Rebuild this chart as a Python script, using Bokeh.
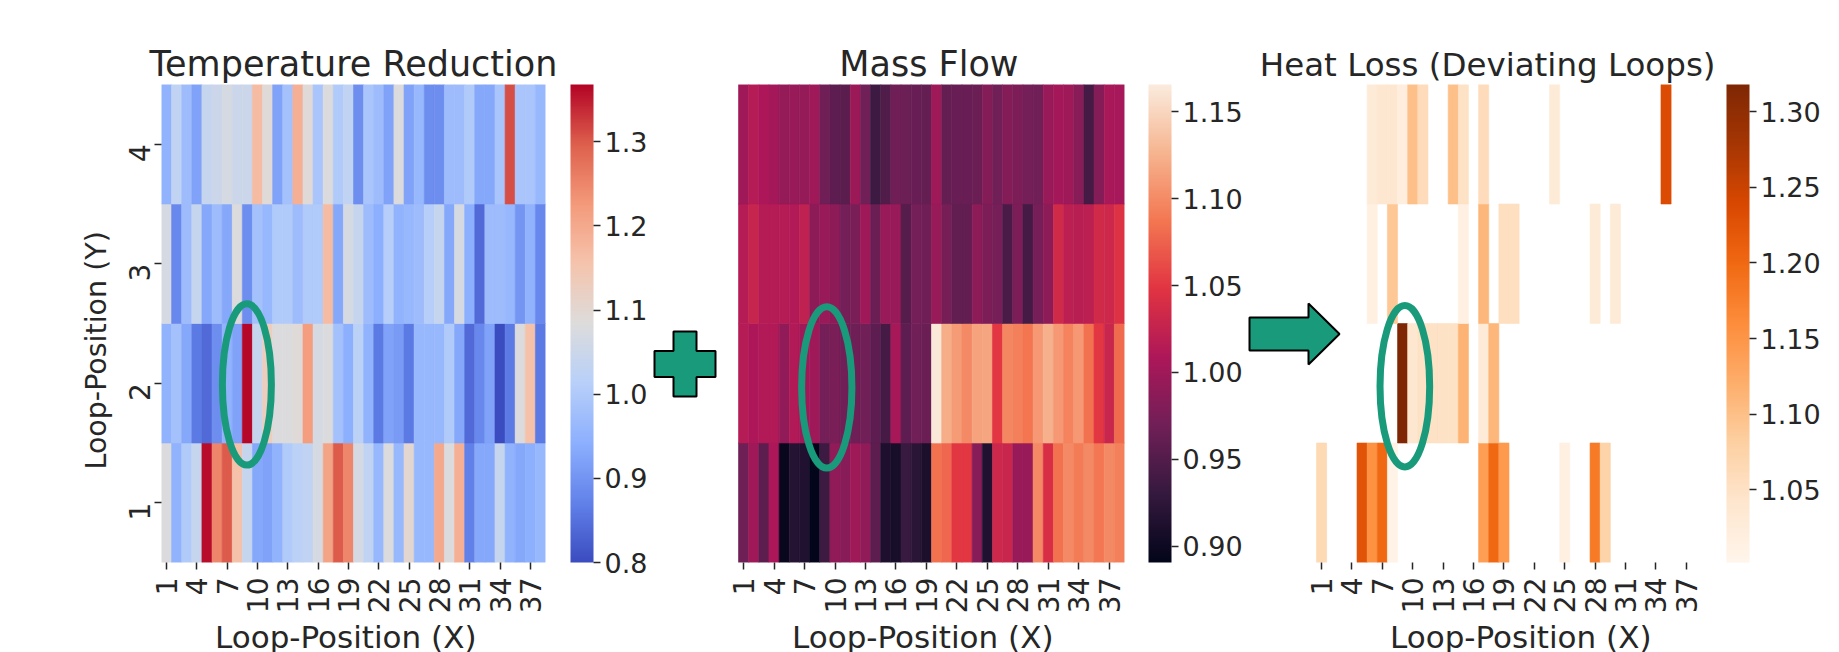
import math
import numpy as np
from bokeh.plotting import figure
from bokeh.layouts import row
from bokeh.models import (ColumnDataSource, LinearColorMapper, ColorBar, FixedTicker,
                          PrintfTickFormatter, Title, Range1d)
from bokeh.transform import transform
from bokeh.embed import file_html
from bokeh.resources import INLINE

# ---------------- data ----------------
loop_x = list(range(1, 39))
loop_y = [1, 2, 3, 4]
x_ticks = list(range(1, 38, 3))
y_ticks = [1, 2, 3, 4]

temp_y1 = [1.08, 0.95, 1.00, 1.04, 1.36, 1.25, 1.30, 1.16, 1.04, 0.93, 0.92, 0.95, 1.00, 1.02, 1.03, 1.07, 1.21, 1.30, 1.25,
           1.07, 1.03, 0.96, 1.08, 0.96, 1.10, 0.96, 0.96, 1.20, 1.08, 1.19, 0.87, 0.93, 0.93, 1.04, 0.95, 0.93, 0.94, 0.96]
temp_y2 = [0.95, 0.98, 0.93, 0.86, 0.84, 0.89, 0.95, 0.92, 1.365, 1.04, 1.13, 1.08, 1.08, 1.09, 1.22, 1.07, 1.08, 0.98, 0.94,
           1.02, 0.95, 0.86, 0.92, 0.91, 0.86, 0.96, 0.96, 0.96, 1.00, 0.93, 0.84, 0.88, 0.92, 0.80, 0.86, 1.08, 1.16, 0.86]
temp_y3 = [1.07, 0.88, 0.97, 1.04, 0.93, 0.97, 0.93, 1.08, 0.89, 0.98, 0.96, 1.00, 1.00, 0.97, 1.00, 1.00, 1.17, 0.93, 1.07,
           1.04, 0.97, 0.94, 1.01, 0.95, 0.96, 0.97, 1.01, 1.04, 0.93, 1.07, 0.94, 0.84, 0.97, 0.97, 0.96, 0.90, 0.95, 0.88]
temp_y4 = [0.95, 1.03, 0.97, 0.92, 1.04, 1.05, 1.07, 1.05, 1.05, 1.17, 1.09, 0.92, 0.98, 1.19, 1.09, 0.99, 1.08, 1.00, 1.03,
           0.89, 0.99, 0.97, 0.92, 1.08, 0.92, 0.96, 0.89, 0.89, 0.97, 0.97, 1.00, 0.93, 0.93, 0.99, 1.31, 0.99, 0.99, 0.96]

mass_y1 = [0.967, 1.000, 0.957, 1.008, 0.895, 0.918, 0.915, 0.891, 0.935, 0.990, 0.985, 1.000, 0.990, 0.957, 0.912, 0.908,
           0.932, 0.922, 0.910, 1.085, 1.078, 1.050, 1.050, 0.985, 0.915, 1.032, 1.030, 0.995, 0.995, 1.100, 1.040, 1.085,
           1.100, 1.090, 1.100, 1.088, 1.100, 1.093]
mass_y2 = [1.015, 1.008, 1.012, 1.012, 0.990, 1.012, 1.000, 1.000, 0.972, 0.975, 0.970, 0.967, 0.970, 0.958, 0.940, 1.005,
           0.958, 0.970, 0.965, 1.163, 1.122, 1.110, 1.100, 1.115, 1.117, 1.050, 1.097, 1.093, 1.087, 1.108, 1.124, 1.108,
           1.095, 1.108, 1.085, 1.050, 1.030, 1.080]
mass_y3 = [1.015, 1.028, 1.015, 1.015, 1.015, 1.012, 1.022, 0.988, 0.995, 0.988, 0.972, 0.975, 1.000, 0.965, 0.995, 0.995,
           0.952, 0.972, 0.968, 0.995, 0.974, 0.960, 0.960, 0.988, 0.977, 0.973, 0.945, 0.977, 0.940, 0.973, 0.988, 1.035,
           1.020, 1.018, 1.020, 1.035, 1.033, 1.045]
mass_y4 = [1.000, 1.015, 1.008, 1.003, 0.993, 0.995, 0.993, 1.000, 0.968, 0.958, 0.955, 0.998, 0.970, 0.935, 0.948, 0.968,
           0.966, 0.964, 0.962, 1.000, 0.962, 0.964, 0.964, 0.965, 0.982, 0.970, 0.982, 0.977, 0.972, 0.970, 0.995, 1.003,
           1.000, 0.985, 0.940, 0.982, 1.006, 1.004]

N = None
heat_y1 = [1.065, N, N, N, 1.225, 1.155, 1.200, 1.010, N, N, N, N, N, N, N, N, 1.140, 1.200, 1.145,
           N, N, N, N, N, 1.015, N, N, 1.180, 1.075, N, N, N, N, N, N, N, N, N]
heat_y2 = [N, N, N, N, N, N, N, N, 1.318, 1.040, 1.050, 1.050, 1.050, 1.050, 1.115, N, 1.030, 1.110, N,
           N, N, N, N, N, N, N, N, N, N, N, N, N, N, N, N, N, N, N]
heat_y3 = [N, N, N, N, N, 1.015, N, 1.090, N, N, N, N, N, N, 1.015, N, 1.110, N, 1.055,
           1.055, N, N, N, N, N, N, N, 1.030, N, 1.030, N, N, N, N, N, N, N, N]
heat_y4 = [N, N, N, N, N, 1.030, 1.040, 1.040, 1.020, 1.100, 1.060, N, N, 1.100, 1.050, N, 1.060, N, N,
           N, N, N, N, 1.030, N, N, N, N, N, N, N, N, N, N, 1.235, N, N, N]

temp_range = (0.80, 1.368)
mass_range = (0.8905, 1.1658)
heat_range = (1.002, 1.318)
temp_ticks = [0.8, 0.9, 1.0, 1.1, 1.2, 1.3]
mass_ticks = [0.90, 0.95, 1.00, 1.05, 1.10, 1.15]
heat_ticks = [1.05, 1.10, 1.15, 1.20, 1.25, 1.30]

titles = ["Temperature Reduction", "Mass Flow", "Heat Loss (Deviating Loops)"]
x_label = "Loop-Position (X)"
y_label = "Loop-Position (Y)"

# ---------------- styles ----------------
FONT = "DejaVu Sans"
TXT = "#262626"
GREEN = "#199b7b"
FRAME_TOP = 84
FRAME_H = 478
BOTTOM = 88


def make_palette(anchors):
    ts = np.array([a[0] for a in anchors])
    rgb = np.array([[int(h[i:i + 2], 16) for i in (1, 3, 5)] for _, h in anchors], dtype=float)
    out = []
    for t in np.linspace(0, 1, 256):
        c = [int(round(np.interp(t, ts, rgb[:, j]))) for j in range(3)]
        out.append("#%02x%02x%02x" % tuple(c))
    return out


coolwarm = make_palette([(0.0, "#3b4cc0"), (0.125, "#6282ea"), (0.25, "#8db0fe"), (0.375, "#b8d0f9"),
                         (0.5, "#dddcdc"), (0.625, "#f5c4ad"), (0.75, "#f49a7b"), (0.875, "#de604d"),
                         (1.0, "#b40426")])
rocket = make_palette([(0, "#03051a"), (1 / 7, "#35193e"), (2 / 7, "#701f57"), (3 / 7, "#ad1759"),
                       (4 / 7, "#e13342"), (5 / 7, "#f37651"), (6 / 7, "#f6b48f"), (1, "#faebdd")])
oranges = make_palette([(i / 8, h) for i, h in enumerate(
    ["#fff5eb", "#fee6ce", "#fdd0a2", "#fdae6b", "#fd8d3c", "#f16913", "#d94801", "#a63603", "#7f2704"])])


def build(rows, palette, vrange, ticks, fmt, heat_left, heat_right, frame_left, left_border, right_border,
          cb_gap, title, t_size, t_align, t_off, xl_off, show_y):
    colw = (heat_right - heat_left) / len(loop_x)
    frame_w = heat_right - frame_left
    x_start = 0.5 - (heat_left - frame_left) / colw
    rowh = FRAME_H / len(loop_y)

    def dx(X):
        return x_start + (X - frame_left) / colw

    def dy(Y):
        return 4.5 - (Y - FRAME_TOP) / rowh

    xs, ys, vs = [], [], []
    for yv, r in zip(loop_y, rows):
        for xv, v in zip(loop_x, r):
            if v is None:
                continue
            xs.append(xv)
            ys.append(yv)
            vs.append(v)
    src = ColumnDataSource(dict(x=xs, y=ys, v=vs))
    mapper = LinearColorMapper(palette=palette, low=vrange[0], high=vrange[1])

    p = figure(frame_width=int(round(frame_w)), frame_height=FRAME_H,
               x_range=Range1d(x_start, 38.5), y_range=Range1d(0.5, 4.5),
               min_border_left=left_border, min_border_right=right_border,
               min_border_top=FRAME_TOP, min_border_bottom=BOTTOM,
               output_backend="svg", toolbar_location=None, title=None)
    p.outline_line_color = None
    p.xgrid.visible = False
    p.ygrid.visible = False
    p.background_fill_color = "white"
    p.border_fill_color = "white"

    p.rect(x="x", y="y", width=1, height=1, source=src,
           fill_color=transform("v", mapper), line_color=transform("v", mapper), line_width=0.6)

    ax = p.xaxis[0]
    ax.ticker = FixedTicker(ticks=x_ticks)
    ax.major_label_orientation = math.pi / 2
    ax.major_label_text_font_size = "28px"
    ax.major_label_text_font = FONT
    ax.major_label_text_color = TXT
    ax.axis_line_color = None
    ax.major_tick_in = 0
    ax.major_tick_out = 7
    ax.major_tick_line_color = TXT
    ax.major_tick_line_width = 1.5
    ax.minor_tick_line_color = None
    ax.major_label_standoff = 8

    ay = p.yaxis[0]
    if show_y:
        ay.ticker = FixedTicker(ticks=y_ticks)
        ay.major_label_orientation = math.pi / 2
        ay.major_label_text_font_size = "28px"
        ay.major_label_text_font = FONT
        ay.major_label_text_color = TXT
        ay.axis_line_color = None
        ay.major_tick_in = 0
        ay.major_tick_out = 7
        ay.major_tick_line_color = TXT
        ay.major_tick_line_width = 1.5
        ay.minor_tick_line_color = None
        ay.major_label_standoff = 15
        p.add_layout(Title(text=y_label, align="left", offset=93, text_font=FONT, text_font_size="28.5px",
                           text_font_style="normal", text_color=TXT, standoff=5), "left")
    else:
        ay.visible = False

    cb = ColorBar(color_mapper=mapper, ticker=FixedTicker(ticks=ticks), formatter=PrintfTickFormatter(format=fmt),
                  width=23, height=FRAME_H, location=(cb_gap, 0), margin=0, padding=0,
                  major_label_text_font_size="27px", major_label_text_font=FONT, major_label_text_color=TXT,
                  major_tick_out=7, major_tick_in=0, major_tick_line_color=TXT, major_tick_line_width=1.5,
                  minor_tick_line_color=None, bar_line_color=None, border_line_color=None,
                  background_fill_color=None, label_standoff=4)
    p.add_layout(cb, "right")

    p.add_layout(Title(text=title, align=t_align, offset=t_off, text_font=FONT, text_font_size=t_size,
                       text_font_style="normal", text_color=TXT, standoff=2), "above")
    p.add_layout(Title(text=x_label, align="right", offset=xl_off, text_font=FONT, text_font_size="31px",
                       text_font_style="normal", text_color=TXT, standoff=0), "below")
    return p, dx, dy


p1, dx1, dy1 = build([temp_y1, temp_y2, temp_y3, temp_y4], coolwarm, temp_range, temp_ticks, "%.1f",
                     161, 545, 161, 161, 105, 25, titles[0], "35px", "center", 0, 69, True)
p2, dx2, dy2 = build([mass_y1, mass_y2, mass_y3, mass_y4], rocket, mass_range, mass_ticks, "%.2f",
                     738, 1124, 650, 0, 121, 24, titles[1], "35px", "right", 106, 71, False)
p3, dx3, dy3 = build([heat_y1, heat_y2, heat_y3, heat_y4], oranges, heat_range, heat_ticks, "%.2f",
                     1316, 1701, 1245, 0, 136, 25, titles[2], "32.5px", "right", -14, 50, False)

# highlight ellipses around the deviating loop (x=9, y=2)
for p, cx, cy, w in ((p1, 8.95, 1.99, 4.85), (p2, 9.19, 1.965, 4.95), (p3, 9.22, 1.975, 4.9)):
    p.ellipse(x=[cx], y=[cy], width=[w], height=[1.35], fill_color=None, line_color=GREEN, line_width=7)

# plus sign between panel 1 and 2
pcx, pcy, a, b, c, d = 684.5, 363.5, 30.5, 11.5, 32.5, 13
plus_px = [(-b, -c), (b, -c), (b, -d), (a, -d), (a, d), (b, d), (b, c), (-b, c), (-b, d), (-a, d), (-a, -d), (-b, -d)]
p2.patch([dx2(pcx + u) for u, v in plus_px], [dy2(pcy + v) for u, v in plus_px],
         fill_color=GREEN, line_color="black", line_width=2)

# arrow between panel 2 and 3
arrow_px = [(1249, 317), (1308, 317), (1308, 303), (1339, 333.5), (1308, 364), (1308, 350), (1249, 350)]
p3.patch([dx3(u) for u, v in arrow_px], [dy3(v) for u, v in arrow_px],
         fill_color=GREEN, line_color="black", line_width=2)

layout = row(p1, p2, p3, spacing=0)
open("out.html", "w").write(file_html(layout, INLINE))
